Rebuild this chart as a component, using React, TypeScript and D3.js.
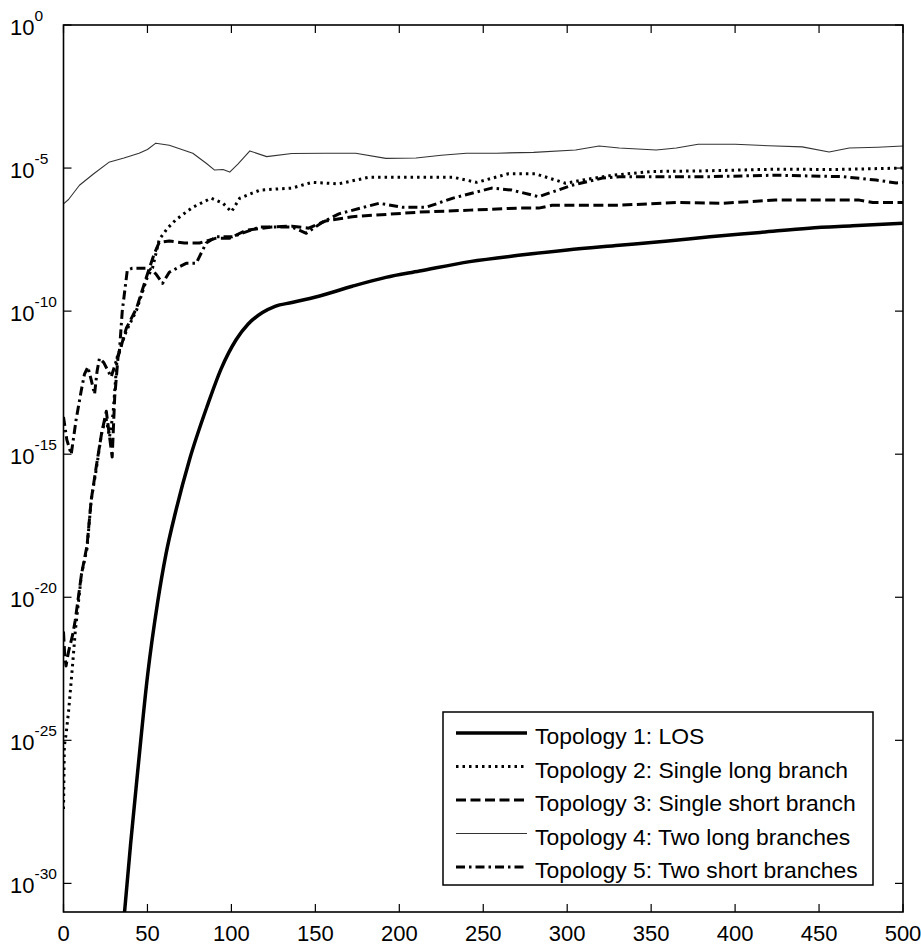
import React from 'react';
import * as d3 from 'd3';

// x = distance, y = log10 of the value
const xTicks = [0, 50, 100, 150, 200, 250, 300, 350, 400, 450, 500];
const yTickExps = [0, -5, -10, -15, -20, -25, -30];

const los = [[36.3, -31.04], [40, -28.6], [44, -26.2], [50.2, -22.67], [56, -20.2], [61, -18.5], [67, -16.96], [75, -15.2], [85.7, -13.3], [94, -12.0], [102.8, -11.0], [110, -10.45], [118.5, -10.05], [126, -9.83], [136, -9.7], [152, -9.48], [172, -9.13], [192, -8.82], [212, -8.6], [242, -8.27], [271, -8.05], [300, -7.86], [331, -7.7], [360, -7.55], [385, -7.4], [415, -7.25], [444, -7.1], [470, -7.02], [500, -6.93]];

const singleLong = [[0, -27.4], [0.5, -25.2], [1.5, -24.8], [3, -24.0], [5.5, -22.3], [7, -21.2], [10.7, -19.2], [14, -18.3], [16.5, -16.6], [19.6, -15.5], [22.6, -14.3], [25.2, -13.7], [27.4, -14.4], [29.5, -13.6], [32, -11.6], [37.4, -10.7], [43.5, -9.97], [50, -8.8], [53, -8.5], [57, -7.5], [62, -7.1], [67, -6.8], [77, -6.37], [88, -6.05], [95, -6.23], [100, -6.53], [105, -6.05], [117, -5.77], [136, -5.7], [148, -5.5], [164, -5.55], [182, -5.32], [232, -5.32], [246, -5.5], [265, -5.2], [281, -5.2], [299, -5.53], [311, -5.4], [327, -5.25], [350, -5.12], [380, -5.1], [424, -5.04], [460, -5.05], [500, -5.0]];

const singleShort = [[0, -21.2], [0.7, -22.0], [1.5, -22.4], [3, -21.9], [5.5, -21.3], [7, -20.8], [10.7, -19.2], [14, -18.2], [16.5, -16.6], [19.6, -15.4], [22.6, -14.3], [25.5, -13.5], [27, -14.2], [29, -15.1], [30.5, -13.0], [32.5, -11.6], [37.4, -10.6], [43.5, -9.9], [50, -8.7], [54, -8.0], [57, -7.6], [63, -7.55], [72, -7.62], [81, -7.62], [91, -7.45], [99, -7.45], [109, -7.17], [124, -7.06], [136, -7.03], [146, -7.1], [156, -6.85], [172, -6.7], [212, -6.54], [242, -6.47], [271, -6.4], [283, -6.4], [291, -6.3], [331, -6.3], [365, -6.2], [392, -6.23], [424, -6.12], [474, -6.12], [482, -6.2], [500, -6.2]];

const twoLong = [[0, -6.25], [3, -6.1], [9.5, -5.6], [18, -5.2], [27, -4.8], [36, -4.65], [45, -4.48], [50, -4.35], [55, -4.13], [63, -4.2], [77, -4.48], [85, -4.83], [90, -5.07], [95, -5.05], [99, -5.14], [104, -4.85], [111, -4.4], [121, -4.6], [136, -4.49], [156, -4.48], [174, -4.48], [192, -4.66], [210, -4.65], [225, -4.55], [240, -4.48], [258, -4.48], [280, -4.45], [305, -4.37], [319, -4.23], [331, -4.3], [353, -4.37], [365, -4.3], [378, -4.17], [400, -4.17], [420, -4.22], [440, -4.26], [456, -4.44], [468, -4.3], [485, -4.27], [500, -4.23]];

const twoShort = [[0, -13.7], [2, -14.5], [4.6, -15.0], [7.5, -13.8], [10.5, -12.8], [12.5, -12.2], [14.5, -11.95], [16.5, -12.4], [18.5, -12.9], [20, -12.1], [21.4, -11.65], [24, -11.8], [28.4, -12.3], [30, -12.0], [33.3, -11.4], [35, -10.0], [38, -8.57], [41, -8.5], [51, -8.5], [55, -8.7], [59, -9.03], [63, -8.64], [73, -8.33], [79, -8.33], [85, -7.62], [91, -7.4], [100.6, -7.4], [117, -7.06], [136, -7.06], [144.6, -7.28], [154, -6.9], [164, -6.6], [188, -6.23], [202, -6.37], [216, -6.37], [232, -6.05], [255, -5.7], [267, -5.77], [283, -6.0], [303, -5.6], [321, -5.35], [331, -5.3], [360, -5.3], [385, -5.3], [424, -5.25], [464, -5.3], [484, -5.42], [496, -5.52], [500, -5.5]];

const seriesNames = [
  'Topology 1: LOS',
  'Topology 2: Single long branch',
  'Topology 3: Single short branch',
  'Topology 4: Two long branches',
  'Topology 5: Two short branches',
];

const styles = [
  { width: 3.5, dash: null, color: '#000' },
  { width: 3, dash: '2.5,4', color: '#000' },
  { width: 3, dash: '10,4.5', color: '#000' },
  { width: 1.1, dash: null, color: '#333' },
  { width: 3, dash: '9,4,2.5,4', color: '#000' },
];

const font = '"Liberation Sans", Arial, Helvetica, sans-serif';

export default function App() {
  const left = 63.5, right = 903, top = 25, bottom = 912;
  const x = d3.scaleLinear().domain([0, 500]).range([left, right]);
  const y = d3.scaleLog().domain([1e-31, 1]).range([bottom, top]);

  const line = d3.line<number[]>()
    .x((d) => x(d[0]))
    .y((d) => y(Math.pow(10, d[1])));
  const smooth = d3.line<number[]>()
    .x((d) => x(d[0]))
    .y((d) => y(Math.pow(10, d[1])))
    .curve(d3.curveMonotoneX);

  const data = [los, singleLong, singleShort, twoLong, twoShort];
  const tick = 8;

  const lg = { x0: 443, y0: 712, x1: 873, y1: 885 };
  const rowY = (i: number) => 733 + i * 33.5;

  return (
    <svg width={921} height={947} style={{ position: 'absolute', left: 0, top: 0, background: '#fff' }}
      fontFamily={font}>
      <defs>
        <clipPath id="plot">
          <rect x={left} y={top} width={right - left} height={bottom - top} />
        </clipPath>
      </defs>
      <rect width={921} height={947} fill="#fff" />

      <g clipPath="url(#plot)">
        {data.map((s, i) => (
          <path key={i} d={(i === 0 ? smooth : line)(s) || ''} fill="none"
            stroke={styles[i].color} strokeWidth={styles[i].width}
            strokeDasharray={styles[i].dash || undefined} strokeLinejoin="round" />
        ))}
      </g>

      {/* ticks, inward on all four sides */}
      {xTicks.map((t) => (
        <g key={'x' + t} stroke="#000" strokeWidth={1.2}>
          <line x1={x(t)} x2={x(t)} y1={bottom} y2={bottom - tick} />
          <line x1={x(t)} x2={x(t)} y1={top} y2={top + tick} />
        </g>
      ))}
      {yTickExps.map((e) => (
        <g key={'y' + e} stroke="#000" strokeWidth={1.2}>
          <line x1={left} x2={left + tick} y1={y(Math.pow(10, e))} y2={y(Math.pow(10, e))} />
          <line x1={right} x2={right - tick} y1={y(Math.pow(10, e))} y2={y(Math.pow(10, e))} />
        </g>
      ))}

      <rect x={left} y={top} width={right - left} height={bottom - top} fill="none" stroke="#000" strokeWidth={1.6} />

      {xTicks.map((t) => (
        <text key={'xl' + t} x={x(t)} y={941} textAnchor="middle" fontSize={22}>{t}</text>
      ))}
      {yTickExps.map((e) => (
        <text key={'yl' + e} x={10} y={y(Math.pow(10, e)) + 10} fontSize={22}>
          10<tspan dy={-14} fontSize={15.5}>{e}</tspan>
        </text>
      ))}

      {/* legend */}
      <rect x={lg.x0} y={lg.y0} width={lg.x1 - lg.x0} height={lg.y1 - lg.y0} fill="#fff" stroke="#000" strokeWidth={1.5} />
      {seriesNames.map((n, i) => (
        <g key={n}>
          <line x1={456} x2={527} y1={rowY(i)} y2={rowY(i)} stroke={styles[i].color}
            strokeWidth={styles[i].width} strokeDasharray={styles[i].dash || undefined} />
          <text x={535} y={rowY(i) + 11} fontSize={22.9}>{n}</text>
        </g>
      ))}
    </svg>
  );
}
